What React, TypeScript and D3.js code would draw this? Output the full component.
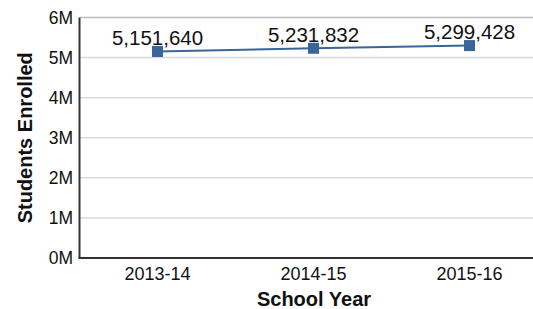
import React from "react";
import * as d3 from "d3";

const categories = ["2013-14", "2014-15", "2015-16"];
const values = [5151640, 5231832, 5299428];
const yTicks = [0, 1e6, 2e6, 3e6, 4e6, 5e6, 6e6];
const yTickLabels = ["0M", "1M", "2M", "3M", "4M", "5M", "6M"];

export default function App() {
  const W = 533, H = 309;
  const left = 79.5, bottom = 258, top = 17.5;
  const x = d3.scaleBand<string>().domain(categories).range([left, left + 468]);
  const y = d3.scaleLinear().domain([0, 6e6]).range([bottom, top]);
  const line = d3.line<number>()
    .x((_, i) => (x(categories[i]) as number) + x.bandwidth() / 2)
    .y((d) => y(d));
  const font = "Arial, 'Liberation Sans', sans-serif";
  const color = "#3a6599";
  return (
    <svg width={W} height={H} style={{ position: "absolute", left: 0, top: 0 }} fontFamily={font}>
      {yTicks.map((t, i) => (
        <g key={t}>
          {i > 0 && (
            <line x1={left} x2={W} y1={y(t)} y2={y(t)} stroke={i === yTicks.length - 1 ? "#bbbbbb" : "#d9d9d9"} strokeWidth={1.5} />
          )}
          <text x={73} y={y(t)} dy="0.36em" textAnchor="end" fontSize={17.5} fill="#111">
            {yTickLabels[i]}
          </text>
        </g>
      ))}
      <line x1={left} x2={left} y1={top} y2={bottom} stroke="#333" strokeWidth={2} />
      <line x1={left - 1} x2={W} y1={bottom} y2={bottom} stroke="#333" strokeWidth={2} />
      {categories.map((c) => (
        <text key={c} x={(x(c) as number) + x.bandwidth() / 2} y={280} textAnchor="middle" fontSize={18} fill="#111">
          {c}
        </text>
      ))}
      <path d={line(values) || ""} fill="none" stroke={color} strokeWidth={2} />
      {values.map((v, i) => {
        const cx = (x(categories[i]) as number) + x.bandwidth() / 2;
        return (
          <g key={i}>
            <rect x={cx - 5.5} y={y(v) - 5.5} width={11} height={11} fill={color} />
            <text x={cx} y={y(v) - 6.5} textAnchor="middle" fontSize={20.5} fill="#111">
              {d3.format(",")(v)}
            </text>
          </g>
        );
      })}
      <text x={314} y={306} textAnchor="middle" fontSize={20} fontWeight="bold" fill="#111">
        School Year
      </text>
      <text transform={`translate(31.5,${(top + bottom) / 2}) rotate(-90)`} textAnchor="middle" fontSize={20} fontWeight="bold" fill="#111">
        Students Enrolled
      </text>
    </svg>
  );
}
